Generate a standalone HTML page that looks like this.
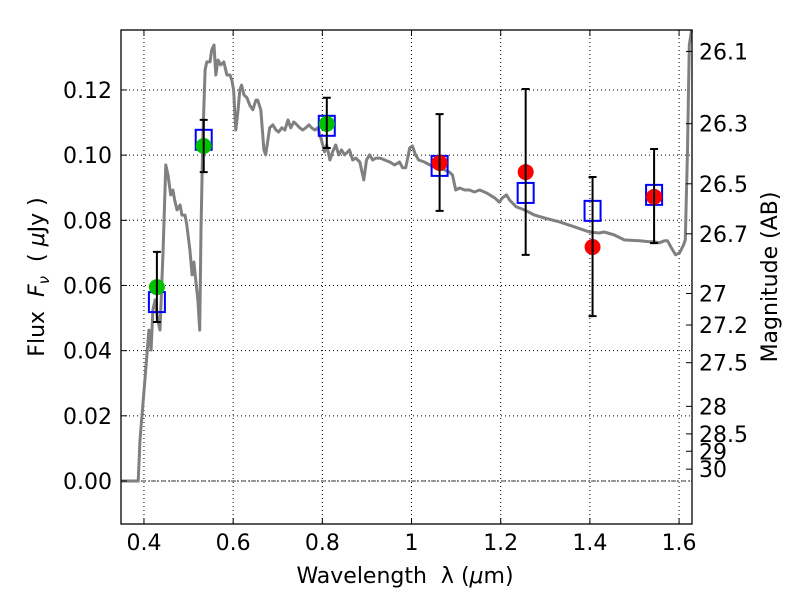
<!DOCTYPE html>
<html><head><meta charset="utf-8"><style>
body{margin:0;background:#fff;}
svg text{font-family:"DejaVu Sans","Liberation Sans",sans-serif;white-space:pre;}
</style></head><body>
<svg id="chart" width="800" height="600" xmlns="http://www.w3.org/2000/svg">
<rect width="800" height="600" fill="#fff"/>
<g id="grid"></g>
<g id="plot"></g>
<rect x="121" y="30" width="571" height="494" fill="none" stroke="#000" stroke-width="1.3"/>
<g id="axes"></g>
<text x="405" y="583" font-size="22" text-anchor="middle">Wavelength&#160;&#160;λ (<tspan font-style="italic">μ</tspan>m)</text>
<text transform="translate(44,277) rotate(-90)" font-size="22" text-anchor="middle">Flux&#160;&#160;<tspan font-style="italic">F</tspan><tspan font-style="italic" font-size="15" dy="5">ν</tspan><tspan dy="-5">&#160;&#160;(&#160;</tspan><tspan font-style="italic">μ</tspan>Jy )</text>
<text transform="translate(777,277) rotate(-90)" font-size="22" text-anchor="middle">Magnitude (AB)</text>
</svg>
<script>
const specLam=[0.348,0.387,0.391,0.402,0.411,0.416,0.420,0.425,0.431,0.436,0.443,0.449,0.454,0.460,0.465,0.469,0.474,0.481,0.485,0.492,0.496,0.503,0.508,0.512,0.516,0.521,0.525,0.528,0.532,0.537,0.541,0.548,0.552,0.557,0.561,0.566,0.572,0.579,0.586,0.593,0.597,0.601,0.606,0.611,0.615,0.619,0.624,0.631,0.637,0.644,0.651,0.655,0.662,0.669,0.673,0.678,0.682,0.689,0.696,0.702,0.709,0.716,0.723,0.729,0.736,0.743,0.749,0.756,0.763,0.770,0.776,0.783,0.790,0.799,0.805,0.810,0.817,0.823,0.830,0.837,0.843,0.850,0.857,0.861,0.868,0.875,0.884,0.893,0.899,0.906,0.913,0.920,0.929,0.940,0.951,0.962,0.973,0.980,0.987,0.996,1.002,1.009,1.016,1.029,1.041,1.054,1.074,1.085,1.092,1.099,1.108,1.119,1.130,1.141,1.153,1.168,1.186,1.197,1.204,1.213,1.220,1.235,1.253,1.276,1.298,1.332,1.365,1.399,1.421,1.432,1.455,1.477,1.511,1.533,1.544,1.556,1.567,1.574,1.583,1.592,1.601,1.610,1.614,1.619,1.623,1.628];
const specFlux=[0,0,0.0126,0.0310,0.0463,0.0402,0.0525,0.0556,0.0494,0.0463,0.0709,0.0970,0.0939,0.0878,0.0893,0.0862,0.0832,0.0847,0.0816,0.0816,0.0786,0.0709,0.0632,0.0672,0.0617,0.0556,0.0463,0.0770,0.1047,0.1262,0.1286,0.1286,0.1323,0.1338,0.1246,0.1292,0.1277,0.1286,0.1246,0.1246,0.1231,0.1200,0.1077,0.1139,0.1200,0.1215,0.1185,0.1176,0.1154,0.1139,0.1169,0.1169,0.1139,0.1016,0.1001,0.1047,0.1084,0.1093,0.1077,0.1071,0.1084,0.1077,0.1108,0.1084,0.1102,0.1093,0.1084,0.1077,0.1084,0.1093,0.1084,0.1077,0.1084,0.1041,0.1010,0.1031,0.0985,0.1010,0.1031,0.1001,0.1016,0.1001,0.1010,0.1016,0.0985,0.0991,0.0979,0.0924,0.0985,0.1001,0.0985,0.0991,0.0991,0.0985,0.0979,0.0970,0.0979,0.0961,0.0961,0.1022,0.1028,0.1001,0.0985,0.0979,0.0970,0.0961,0.0955,0.0948,0.0939,0.0893,0.0899,0.0893,0.0893,0.0887,0.0893,0.0884,0.0869,0.0856,0.0869,0.0878,0.0862,0.0841,0.0832,0.0816,0.0807,0.0795,0.0780,0.0764,0.0761,0.0764,0.0755,0.0740,0.0737,0.0734,0.0734,0.0731,0.0737,0.0737,0.0715,0.0694,0.0700,0.0724,0.0740,0.1016,0.1338,0.1384];
const photLam=[0.429,0.534,0.810,1.063,1.256,1.406,1.544];
const obsFlux=[0.0595,0.1028,0.1096,0.0976,0.0948,0.0718,0.0872];
const errHi=[0.0703,0.1108,0.1176,0.1126,0.1203,0.0933,0.1019];
const errLo=[0.0488,0.0948,0.1022,0.0829,0.0694,0.0506,0.0730];
const modelFlux=[0.0549,0.1047,0.1090,0.0967,0.0884,0.0829,0.0878];
const obsColor=['#00c000','#00c000','#00c000','#ff0000','#ff0000','#ff0000','#ff0000'];
const xTicks=[0.4,0.6,0.8,1.0,1.2,1.4,1.6];
const xTickLabels=['0.4','0.6','0.8','1','1.2','1.4','1.6'];
const yTicks=[0,0.02,0.04,0.06,0.08,0.10,0.12];
const yTickLabels=['0.00','0.02','0.04','0.06','0.08','0.10','0.12'];
const magTicks=[26.1,26.3,26.5,26.7,27,27.2,27.5,28,28.5,29,30];
const magLabels=['26.1','26.3','26.5','26.7','27','27.2','27.5','28','28.5','29','30'];

const X0=121,X1=692,Y0=524,Y1=30,xmin=0.3485,xmax=1.629,ymin=-0.0132,ymax=0.1384;
const sx=v=>X0+(v-xmin)/(xmax-xmin)*(X1-X0);
const sy=v=>Y0-(v-ymin)/(ymax-ymin)*(Y0-Y1);
const NS='http://www.w3.org/2000/svg';
function mk(tag,attrs,parent,txt){const e=document.createElementNS(NS,tag);for(const k in attrs)e.setAttribute(k,attrs[k]);if(txt!==undefined)e.textContent=txt;parent.appendChild(e);return e;}
const grid=document.getElementById('grid'),plot=document.getElementById('plot'),axes=document.getElementById('axes');

xTicks.forEach((t,i)=>{const x=sx(t);
 const g=mk('line',{x1:x,x2:x,y1:Y1,y2:Y0,stroke:'#000','stroke-width':1,'stroke-dasharray':'1,3'},grid);
 
 
 mk('line',{x1:x,x2:x,y1:Y0,y2:Y0-6,stroke:'#000'},axes);
 mk('line',{x1:x,x2:x,y1:Y1,y2:Y1+6,stroke:'#000'},axes);
 const l=mk('text',{x:x,y:Y0+26,'font-size':22,'text-anchor':'middle'},axes,xTickLabels[i]);
 
 
});
yTicks.forEach((t,i)=>{const y=sy(t);
 const g=mk('line',{x1:X0,x2:X1,y1:y,y2:y,stroke:'#000','stroke-width':1,'stroke-dasharray':'1,3'},grid);
 
 
 mk('line',{x1:X0,x2:X0+6,y1:y,y2:y,stroke:'#000'},axes);
 const l=mk('text',{x:X0-9,y:y+8,'font-size':22,'text-anchor':'end'},axes,yTickLabels[i]);
 
 
});
magTicks.forEach((m,i)=>{const f=Math.pow(10,(23.9-m)/2.5);const y=sy(f);
 mk('line',{x1:X1,x2:X1-6,y1:y,y2:y,stroke:'#000'},axes);
 const l=mk('text',{x:X1+7,y:y+8,'font-size':22},axes,magLabels[i]);
 
 
});
const zl=mk('line',{x1:X0,x2:X1,y1:sy(0),y2:sy(0),stroke:'#000','stroke-width':0.8,'stroke-dasharray':'5,2,1,2'},plot);



const d=specLam.map((l,i)=>(i?'L':'M')+sx(l).toFixed(1)+','+sy(specFlux[i]).toFixed(1)).join('');
const sp=mk('path',{d:d,fill:'none',stroke:'#808080','stroke-width':3,'stroke-linejoin':'round'},plot);



photLam.forEach((l,i)=>{const x=sx(l);
 const s=mk('rect',{x:x-8,y:sy(modelFlux[i])-10,width:16,height:20,fill:'none',stroke:'#0000ff','stroke-width':2},plot);
 
 
 const c=mk('circle',{cx:x,cy:sy(obsFlux[i]),r:8,fill:obsColor[i]},plot);
 
 
 const eb=mk('path',{d:`M${x},${sy(errHi[i])}V${sy(errLo[i])}M${x-4},${sy(errHi[i])}h8M${x-4},${sy(errLo[i])}h8`,stroke:'#000','stroke-width':2,fill:'none'},plot);
 
 
});
</script>
</body></html>
